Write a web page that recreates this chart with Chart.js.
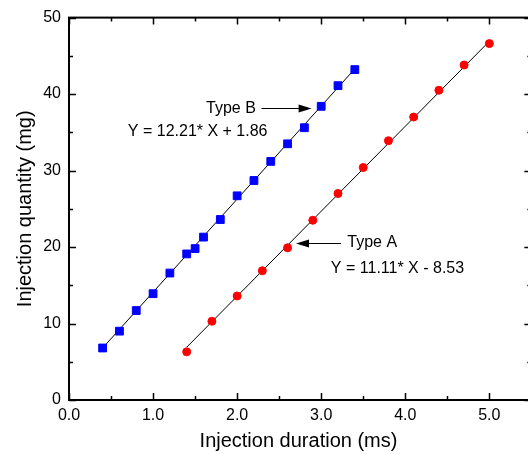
<!DOCTYPE html>
<html>
<head>
<meta charset="utf-8">
<script src="https://cdn.jsdelivr.net/npm/chart.js@4/dist/chart.umd.min.js"></script>
<style>
    body { margin: 0; background: #fff; }
    #wrap { width: 528px; height: 454px; }
</style>
</head>
<body>
<div id="wrap"><canvas id="myChart"></canvas></div>
<script>
// data
var durationB = [0.4, 0.6, 0.8, 1.0, 1.2, 1.4, 1.5, 1.6, 1.8, 2.0, 2.2, 2.4, 2.6, 2.8, 3.0, 3.2, 3.4];
var quantityB = [6.8, 9.0, 11.7, 13.9, 16.6, 19.1, 19.8, 21.3, 23.6, 26.7, 28.7, 31.2, 33.5, 35.6, 38.4, 41.1, 43.2];
var durationA = [1.4, 1.7, 2.0, 2.3, 2.6, 2.9, 3.2, 3.5, 3.8, 4.1, 4.4, 4.7, 5.0];
var quantityA = [6.3, 10.3, 13.6, 16.9, 19.9, 23.5, 27.0, 30.4, 33.9, 37.0, 40.5, 43.8, 46.6];

// fitted lines, end points only
var fitDurationB = [0.4, 3.4];
var fitQuantityB = [6.8, 43.3];
var fitDurationA = [1.4, 5.0];
var fitQuantityA = [6.9, 46.9];

// axis range: the original frame ends at 5.5, the picture is cut at about 5.46
var xMin = 0, xVisibleMax = 5.46, xFrameMax = 5.5;
var yMin = 0, yMax = 50;

// tick values
var xMajor = [0, 1, 2, 3, 4, 5];
var xMinor = [0.5, 1.5, 2.5, 3.5, 4.5];
var yMajor = [0, 10, 20, 30, 40, 50];
var yMinor = [5, 15, 25, 35, 45];

// annotation texts, placed in data units
var noteText = ['Type B', 'Y = 12.21* X + 1.86', 'Type A', 'Y = 11.11* X - 8.53'];
var noteX = [1.63, 0.70, 3.31, 3.115];
var noteY = [38.15, 35.1, 20.55, 17.2];
// arrows: from (x1,y) to tip (x2,y)
var arrowFrom = [2.29, 3.235];
var arrowTo = [2.886, 2.70];
var arrowY = [38.15, 20.55];

function toPoints(xs, ys) {
    var pts = [];
    for (var i = 0; i < xs.length; i++) {
        pts.push({ x: xs[i], y: ys[i] });
    }
    return pts;
}

// frame, inward ticks, arrows and texts
var framePlugin = {
    id: 'frame',
    afterDatasetsDraw: function (chart) {
        var ctx = chart.ctx;
        var area = chart.chartArea;
        var xs = chart.scales.x;
        var ys = chart.scales.y;
        // right side of the frame sits just outside the canvas
        var right = xs.getPixelForValue(xFrameMax);
        ctx.save();
        ctx.strokeStyle = '#000';

        ctx.lineWidth = 1.5;
        function xTick(v, len) {
            var p = Math.round(xs.getPixelForValue(v)) + 0.5;
            ctx.beginPath();
            ctx.moveTo(p, area.bottom); ctx.lineTo(p, area.bottom - len);
            ctx.moveTo(p, area.top); ctx.lineTo(p, area.top + len);
            ctx.stroke();
        }
        function yTick(v, len) {
            var p = Math.round(ys.getPixelForValue(v)) + 0.5;
            ctx.beginPath();
            ctx.moveTo(area.left, p); ctx.lineTo(area.left + len, p);
            ctx.moveTo(right, p); ctx.lineTo(right - len, p);
            ctx.stroke();
        }
        xMajor.forEach(function (v) { xTick(v, 7); });
        xMinor.forEach(function (v) { xTick(v, 4); });
        yMajor.forEach(function (v) { yTick(v, 7); });
        yMinor.forEach(function (v) { yTick(v, 4); });

        ctx.lineWidth = 2;
        ctx.strokeRect(area.left, area.top, right - area.left, area.bottom - area.top);

        // arrows
        ctx.lineWidth = 1;
        ctx.fillStyle = '#000';
        for (var i = 0; i < arrowFrom.length; i++) {
            var x1 = xs.getPixelForValue(arrowFrom[i]);
            var x2 = xs.getPixelForValue(arrowTo[i]);
            var y = Math.round(ys.getPixelForValue(arrowY[i])) + 0.5;
            var dir = x2 > x1 ? 1 : -1;
            ctx.beginPath();
            ctx.moveTo(x1, y); ctx.lineTo(x2 - dir * 12, y);
            ctx.stroke();
            ctx.beginPath();
            ctx.moveTo(x2, y);
            ctx.lineTo(x2 - dir * 13, y - 4);
            ctx.lineTo(x2 - dir * 13, y + 4);
            ctx.closePath();
            ctx.fill();
        }

        // texts
        ctx.font = '16px "Liberation Sans", Arial, sans-serif';
        ctx.textAlign = 'left';
        ctx.textBaseline = 'middle';
        for (var j = 0; j < noteText.length; j++) {
            ctx.fillText(noteText[j], xs.getPixelForValue(noteX[j]), ys.getPixelForValue(noteY[j]));
        }
        ctx.restore();
    }
};

var fontTick = { family: '"Liberation Sans", Arial, sans-serif', size: 16 };
var fontTitle = { family: '"Liberation Sans", Arial, sans-serif', size: 20 };

var myChart = new Chart(document.getElementById('myChart'), {
    type: 'scatter',
    data: {
        datasets: [
            {
                label: 'Type B',
                data: toPoints(durationB, quantityB),
                pointStyle: 'rect',
                pointRadius: 5.5,
                backgroundColor: '#0000ff',
                borderColor: '#0000ff',
                borderWidth: 1,
                order: 0
            },
            {
                label: 'Type A',
                data: toPoints(durationA, quantityA),
                pointStyle: 'circle',
                pointRadius: 4,
                backgroundColor: '#ff0000',
                borderColor: '#ff0000',
                borderWidth: 1,
                order: 0
            },
            {
                label: 'fit B',
                data: toPoints(fitDurationB, fitQuantityB),
                showLine: true,
                borderColor: '#000',
                borderWidth: 1,
                pointRadius: 0,
                order: 1
            },
            {
                label: 'fit A',
                data: toPoints(fitDurationA, fitQuantityA),
                showLine: true,
                borderColor: '#000',
                borderWidth: 1,
                pointRadius: 0,
                order: 1
            }
        ]
    },
    options: {
        responsive: true,
        maintainAspectRatio: false,
        animation: false,
        devicePixelRatio: 1,
        layout: { autoPadding: false, padding: { left: 0, top: 16, right: 0, bottom: 0 } },
        plugins: {
            legend: { display: false },
            tooltip: { enabled: false }
        },
        scales: {
            x: {
                type: 'linear',
                min: xMin,
                max: xVisibleMax,
                grid: { display: false, drawTicks: false },
                border: { display: false },
                afterBuildTicks: function (scale) {
                    scale.ticks = xMajor.map(function (v) { return { value: v }; });
                },
                afterFit: function (scale) {
                    scale.height = 54;
                    scale.paddingLeft = 0;
                    scale.paddingRight = 0;
                },
                ticks: {
                    color: '#000',
                    font: fontTick,
                    padding: 6,
                    maxRotation: 0,
                    callback: function (v) { return Number(v).toFixed(1); }
                },
                title: {
                    display: true,
                    text: 'Injection duration (ms)',
                    color: '#000',
                    font: fontTitle,
                    padding: { top: 0, bottom: 1 }
                }
            },
            y: {
                type: 'linear',
                min: yMin,
                max: yMax,
                grid: { display: false, drawTicks: false },
                border: { display: false },
                afterBuildTicks: function (scale) {
                    scale.ticks = yMajor.map(function (v) { return { value: v }; });
                },
                afterFit: function (scale) { scale.width = 69; },
                ticks: {
                    color: '#000',
                    font: fontTick,
                    padding: 8
                },
                title: {
                    display: true,
                    text: 'Injection quantity (mg)',
                    color: '#000',
                    font: fontTitle,
                    padding: { top: 13, bottom: 0 }
                }
            }
        }
    },
    plugins: [framePlugin]
});
</script>
</body>
</html>
